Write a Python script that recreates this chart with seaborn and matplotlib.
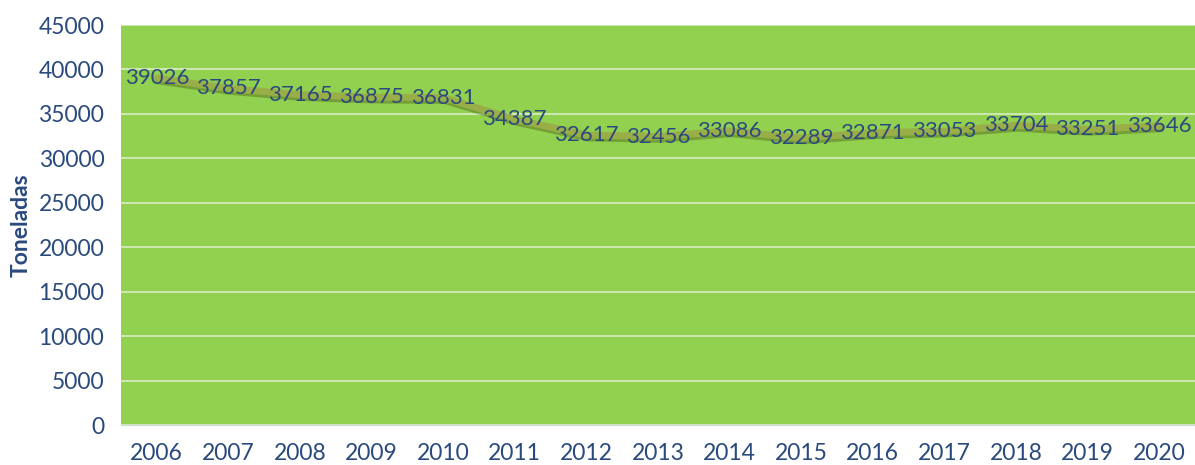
import matplotlib
matplotlib.use("Agg")
import matplotlib.pyplot as plt
import matplotlib.patheffects as pe
import seaborn as sns
import pandas as pd
import numpy as np

years = ["2006", "2007", "2008", "2009", "2010", "2011", "2012", "2013",
         "2014", "2015", "2016", "2017", "2018", "2019", "2020"]
toneladas = [39026, 37857, 37165, 36875, 36831, 34387, 32617, 32456,
             33086, 32289, 32871, 33053, 33704, 33251, 33646]
yticks = [0, 5000, 10000, 15000, 20000, 25000, 30000, 35000, 40000, 45000]

df = pd.DataFrame({"pos": np.arange(len(years)), "year": years, "val": toneladas})

sns.set_style("white")
plt.rcParams["font.family"] = ["Lato", "DejaVu Sans"]

text_color = "#2a4a7e"
fig = plt.figure(figsize=(11.95, 4.65), dpi=100)
ax = fig.add_axes([121/1195, 40/465, 1 - 121/1195, 400/465])
ax.set_facecolor("#92d050")

sns.lineplot(data=df, x="pos", y="val", ax=ax, color="#9aae48", linewidth=5,
             path_effects=[pe.SimpleLineShadow(offset=(1, -2), shadow_color="#4f6418", alpha=0.45),
                           pe.Normal()], zorder=3)

for x, v in zip(df["pos"], df["val"]):
    ax.text(x, v, str(v), ha="center", va="center", fontsize=16, color=text_color, zorder=4)

ax.set_ylim(0, 45000)
ax.set_xlim(-0.5, len(years) - 0.5)
ax.set_yticks(yticks)
ax.set_yticklabels([str(t) for t in yticks], fontsize=16.5, color=text_color)
ax.yaxis.grid(True, color="#d8ecc6", linewidth=1.2)
ax.set_axisbelow(True)

ax.set_xticks(df["pos"])
ax.set_xticklabels(years, fontsize=16.5, color=text_color)
ax.tick_params(axis="x", length=0, pad=13)
ax.tick_params(axis="y", length=0, pad=12)
ax.set_xticks(np.arange(-0.5, len(years), 1), minor=True)
ax.tick_params(axis="x", which="minor", length=8, color="#d0d8e4", width=1)

for s in ["top", "right", "left"]:
    ax.spines[s].set_visible(False)
ax.spines["bottom"].set_color("#d0d8e4")

ax.set_xlabel("")
ax.set_ylabel("Toneladas", fontsize=16.5, fontweight="bold", color=text_color, labelpad=5)

fig.savefig("out.png", dpi=100)
